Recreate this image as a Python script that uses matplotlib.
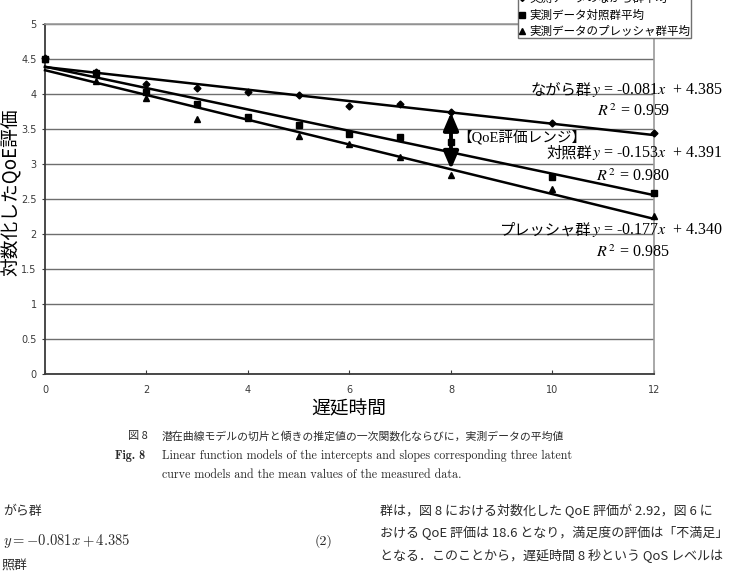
import matplotlib
matplotlib.use('Agg')
import matplotlib.pyplot as plt
from matplotlib.lines import Line2D
from matplotlib.patches import FancyArrowPatch

# --- data ---
delay = [0, 1, 2, 3, 4, 5, 6, 7, 8, 10, 12]
nagara_mean = [4.52, 4.31, 4.14, 4.08, 4.03, 3.99, 3.83, 3.86, 3.75, 3.58, 3.45]
control_mean = [4.50, 4.30, 4.03, 3.86, 3.67, 3.56, 3.43, 3.39, 3.32, 2.82, 2.58]
pressure_mean = [4.50, 4.18, 3.95, 3.64, 3.66, 3.40, 3.29, 3.10, 2.84, 2.64, 2.26]

groups = ['ながら群', '対照群', 'プレッシャ群']
slopes = [-0.081, -0.153, -0.177]
intercepts = [4.385, 4.391, 4.340]
r2 = ['0.959', '0.980', '0.985']
markers = ['D', 's', '^']
marker_sizes = [3.5, 5, 5]
legend_labels = ['実測データのながら群平均', '実測データ対照群平均', '実測データのプレッシャ群平均']

W, H = 729, 574
CJK = ['Noto Sans CJK JP', 'DejaVu Sans']
SERIF_CJK = ['Liberation Serif', 'Noto Sans CJK JP']
INK = '#2a2a2a'


def px(x, y):
    # pixel position (from top-left) -> figure fraction
    return x / W, 1 - y / H


fig = plt.figure(figsize=(W / 100, H / 100), dpi=100)
fig.patch.set_facecolor('white')
ax = fig.add_axes([45 / W, 1 - 374 / H, (654 - 45) / W, (374 - 24) / H])

ax.set_xlim(0, 12)
ax.set_ylim(0, 5)
ax.set_xticks(range(0, 13, 2))
ax.set_yticks([i * 0.5 for i in range(11)])
ax.set_yticklabels(['0', '0.5', '1', '1.5', '2', '2.5', '3', '3.5', '4', '4.5', '5'])
ax.yaxis.grid(True, color='#6e6e6e', lw=1.0)
ax.set_axisbelow(True)
for s in ['left', 'bottom']:
    ax.spines[s].set_color('#3a3a3a')
    ax.spines[s].set_linewidth(1.3)
for s in ['top', 'right']:
    ax.spines[s].set_color('#9a9a9a')
    ax.spines[s].set_linewidth(1.2)
ax.tick_params(axis='x', direction='in', length=3, pad=8, labelsize=7, colors='#3a3a3a')
ax.tick_params(axis='y', direction='out', length=2, pad=4, labelsize=7, colors='#3a3a3a')

fig.text(*px(11, 192), '対数化したQoE評価', fontsize=13.5, family=CJK, rotation=90,
         ha='center', va='center', color='black')
fig.text(*px(349, 409), '遅延時間', fontsize=13.5, family=CJK,
         ha='center', va='center', color='black')

# measured means
for ys, m, ms in zip([nagara_mean, control_mean, pressure_mean], markers, marker_sizes):
    ax.plot(delay, ys, ls='none', marker=m, ms=ms, color='black', clip_on=False, zorder=4)

# fitted lines
for a, b in zip(slopes, intercepts):
    ax.plot([0, 12], [b, a * 12 + b], color='black', lw=1.8, zorder=3, clip_on=False)

# QoE range arrow at x = 8
x_arrow = 8
y_top = slopes[0] * x_arrow + intercepts[0]
y_bot = slopes[2] * x_arrow + intercepts[2]
arrow = FancyArrowPatch((x_arrow, y_bot), (x_arrow, y_top),
                        arrowstyle='<|-|>,head_length=0.75,head_width=0.32',
                        mutation_scale=14, lw=2.8, color='black',
                        shrinkA=0, shrinkB=0, zorder=5)
ax.add_patch(arrow)
fig.text(*px(457, 137), '【QoE評価レンジ】', fontsize=10.5, family=SERIF_CJK,
         ha='left', va='center', color='black')

# equation labels
eq_y = [90, 153, 230]
r2_y = [112, 177, 253]
renderer = fig.canvas.get_renderer()
for g, a, b, r, ey, ry in zip(groups, slopes, intercepts, r2, eq_y, r2_y):
    t = fig.text(*px(723, ey), f'$y$ = -{abs(a):.3f}$x$  + {b:.3f}', fontsize=11.5,
                 family='Liberation Serif', math_fontfamily='stix',
                 ha='right', va='center', color='black')
    bb = t.get_window_extent(renderer)
    fig.text(bb.x0 / W, 1 - ey / H, g, fontsize=11, family=CJK, ha='right',
             va='center', color='black')
    fig.text(*px(633, ry), f'$R^{{\\,2}}$ = {r}', fontsize=11.5, family='Liberation Serif',
             math_fontfamily='stix', ha='center', va='center', color='black')

# legend (its top is cut by the page crop)
handles = [Line2D([], [], ls='none', marker=m, ms=ms * 0.85, color='black')
           for m, ms in zip(markers, marker_sizes)]
leg = fig.legend(handles, legend_labels, loc='lower left',
                 bbox_to_anchor=(518 / W, 1 - 38 / H), borderaxespad=0,
                 prop={'family': CJK, 'size': 8.3},
                 handlelength=0.7, handletextpad=0.3, labelspacing=0.28,
                 borderpad=0.02, fancybox=False, framealpha=1, edgecolor='#707070')
leg.get_frame().set_linewidth(1.0)

# figure caption
fig.text(*px(128, 436), '図 8', fontsize=8, family=CJK, ha='left', va='center', color=INK)
fig.text(*px(162, 436), '潜在曲線モデルの切片と傾きの推定値の一次関数化ならびに，実測データの平均値',
         fontsize=7.8, family=CJK, ha='left', va='center', color=INK)
fig.text(*px(115, 456), 'Fig. 8', fontsize=8.7, family='cmb10', ha='left', va='center', color=INK)
fig.text(*px(162, 456), 'Linear function models of the intercepts and slopes corresponding three latent',
         fontsize=8.65, family='cmr10', ha='left', va='center', color=INK)
fig.text(*px(162, 475), 'curve models and the mean values of the measured data.',
         fontsize=8.65, family='cmr10', ha='left', va='center', color=INK)

# surrounding body text of the page
fig.text(*px(3, 512), 'がら群', fontsize=9.3, family=CJK, ha='left', va='center', color=INK)
fig.text(*px(3, 541), '$y = -0.081x + 4.385$', fontsize=10.5, math_fontfamily='cm',
         ha='left', va='center', color=INK)
fig.text(*px(333, 541), '(2)', fontsize=10, family='cmr10', ha='right', va='center', color=INK)
fig.text(*px(1, 566), '照群', fontsize=9.3, family=CJK, ha='left', va='center', color=INK)

body = ['群は，図 8 における対数化した QoE 評価が 2.92，図 6 に',
        'おける QoE 評価は 18.6 となり，満足度の評価は「不満足」',
        'となる．このことから，遅延時間 8 秒という QoS レベルは']
for i, line in enumerate(body):
    fig.text(*px(380, 511 + 22 * i), line, fontsize=9.4, family=CJK,
             ha='left', va='center', color=INK)

fig.savefig('out.png', dpi=100, facecolor='white')
